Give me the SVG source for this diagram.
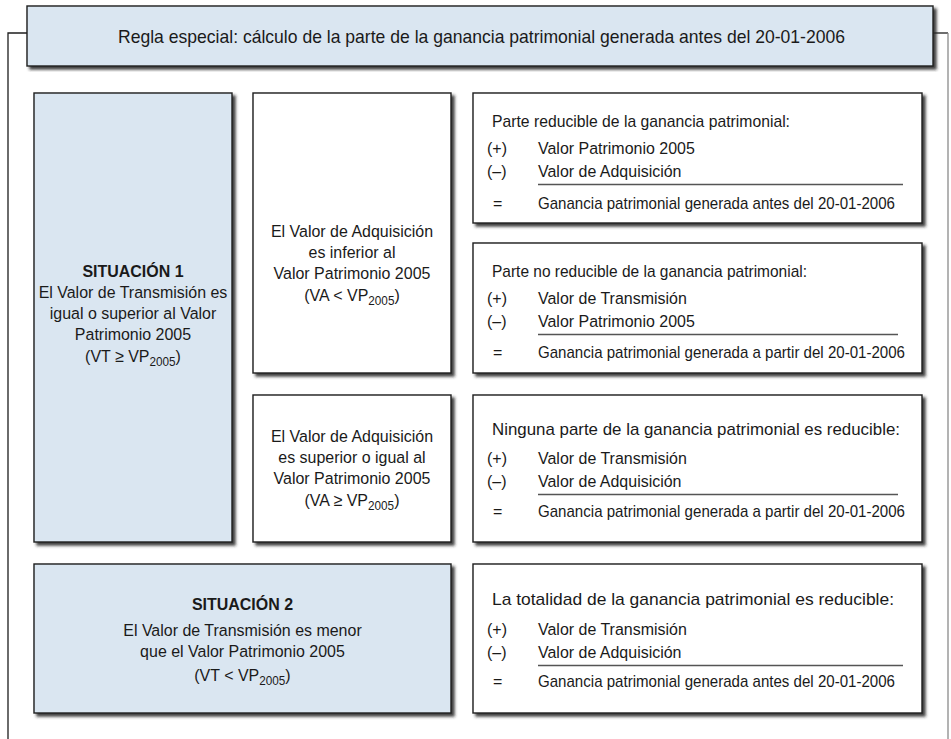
<svg xmlns="http://www.w3.org/2000/svg" width="951" height="739" viewBox="0 0 951 739">
<defs>
<filter id="sh" x="-5%" y="-5%" width="115%" height="115%">
<feDropShadow dx="3" dy="3" stdDeviation="1.5" flood-color="#2a2a2a" flood-opacity="0.9"/>
</filter>
<style>
.blue{fill:#dae6f1;stroke:#1e1e1e;stroke-width:1.4;filter:url(#sh)}
.white{fill:#ffffff;stroke:#1e1e1e;stroke-width:1.4;filter:url(#sh)}
text{font-family:"Liberation Sans",Arial,sans-serif;font-size:17px;fill:#1a1a1a}
.c{text-anchor:middle}
.b{font-weight:bold}
.h{font-size:18.5px}
.sub{font-size:12.5px}
.rule{stroke:#555555;stroke-width:1.3}
</style>
</defs>
<rect width="951" height="739" fill="#ffffff"/>
<g id="connectors">
<polyline points="27,33 8,33 8,739" fill="none" stroke="#1e1e1e" stroke-width="1.3"/>
<line x1="933" y1="33" x2="948" y2="33" stroke="#1e1e1e" stroke-width="1.3"/>
<line x1="948" y1="33" x2="948" y2="739" stroke="#8a8a8a" stroke-width="1.3"/>
</g>
<g id="header">
<rect class="blue" x="27" y="6" width="906" height="60"/>
<text class="h c" x="481.5" y="43" textLength="727" lengthAdjust="spacingAndGlyphs">Regla especial: cálculo de la parte de la ganancia patrimonial generada antes del 20-01-2006</text>
</g>
<g id="situacion1">
<rect class="blue" x="34" y="93" width="198" height="449"/>
<text class="c b" x="133" y="277" transform="matrix(0.94 0 0 1 7.98 0)">SITUACIÓN 1</text>
<text class="c" x="133" y="298" transform="matrix(0.94 0 0 1 7.98 0)">El Valor de Transmisión es</text>
<text class="c" x="133" y="319" transform="matrix(0.94 0 0 1 7.98 0)">igual o superior al Valor</text>
<text class="c" x="133" y="340" transform="matrix(0.94 0 0 1 7.98 0)">Patrimonio 2005</text>
<text class="c" x="133" y="362" transform="matrix(0.94 0 0 1 7.98 0)">(VT ≥ VP<tspan class="sub" dy="4">2005</tspan><tspan dy="-4">)</tspan></text>
</g>
<g id="va-menor">
<rect class="white" x="253" y="93" width="198" height="280"/>
<text class="c" x="352" y="237" transform="matrix(0.94 0 0 1 21.12 0)">El Valor de Adquisición</text>
<text class="c" x="352" y="258" transform="matrix(0.94 0 0 1 21.12 0)">es inferior al</text>
<text class="c" x="352" y="279" transform="matrix(0.94 0 0 1 21.12 0)">Valor Patrimonio 2005</text>
<text class="c" x="352" y="301" transform="matrix(0.94 0 0 1 21.12 0)">(VA &lt; VP<tspan class="sub" dy="4">2005</tspan><tspan dy="-4">)</tspan></text>
</g>
<g id="va-mayor">
<rect class="white" x="253" y="395" width="198" height="147"/>
<text class="c" x="352" y="442" transform="matrix(0.94 0 0 1 21.12 0)">El Valor de Adquisición</text>
<text class="c" x="352" y="463" transform="matrix(0.94 0 0 1 21.12 0)">es superior o igual al</text>
<text class="c" x="352" y="484" transform="matrix(0.94 0 0 1 21.12 0)">Valor Patrimonio 2005</text>
<text class="c" x="352" y="506" transform="matrix(0.94 0 0 1 21.12 0)">(VA ≥ VP<tspan class="sub" dy="4">2005</tspan><tspan dy="-4">)</tspan></text>
</g>
<g id="parte-reducible">
<rect class="white" x="473" y="93" width="449" height="130"/>
<text x="492" y="127" textLength="298" lengthAdjust="spacingAndGlyphs">Parte reducible de la ganancia patrimonial:</text>
<text x="487" y="154" transform="matrix(0.94 0 0 1 29.22 0)">(+)</text>
<text x="538" y="154" transform="matrix(0.94 0 0 1 32.28 0)">Valor Patrimonio 2005</text>
<text x="487" y="177" transform="matrix(0.94 0 0 1 29.22 0)">(–)</text>
<text x="538" y="177" transform="matrix(0.94 0 0 1 32.28 0)">Valor de Adquisición</text>
<line class="rule" x1="538" y1="184.5" x2="903" y2="184.5"/>
<text x="493" y="209" transform="matrix(0.94 0 0 1 29.58 0)">=</text>
<text x="538" y="209" textLength="357" lengthAdjust="spacingAndGlyphs">Ganancia patrimonial generada antes del 20-01-2006</text>
</g>
<g id="parte-no-reducible">
<rect class="white" x="473" y="243" width="449" height="130"/>
<text x="492" y="277" textLength="315" lengthAdjust="spacingAndGlyphs">Parte no reducible de la ganancia patrimonial:</text>
<text x="487" y="304" transform="matrix(0.94 0 0 1 29.22 0)">(+)</text>
<text x="538" y="304" transform="matrix(0.94 0 0 1 32.28 0)">Valor de Transmisión</text>
<text x="487" y="327" transform="matrix(0.94 0 0 1 29.22 0)">(–)</text>
<text x="538" y="327" transform="matrix(0.94 0 0 1 32.28 0)">Valor Patrimonio 2005</text>
<line class="rule" x1="538" y1="334.5" x2="898" y2="334.5"/>
<text x="493" y="358" transform="matrix(0.94 0 0 1 29.58 0)">=</text>
<text x="538" y="358" textLength="367" lengthAdjust="spacingAndGlyphs">Ganancia patrimonial generada a partir del 20-01-2006</text>
</g>
<g id="ninguna-parte">
<rect class="white" x="473" y="395" width="449" height="147"/>
<text x="492" y="435" textLength="408" lengthAdjust="spacingAndGlyphs">Ninguna parte de la ganancia patrimonial es reducible:</text>
<text x="487" y="464" transform="matrix(0.94 0 0 1 29.22 0)">(+)</text>
<text x="538" y="464" transform="matrix(0.94 0 0 1 32.28 0)">Valor de Transmisión</text>
<text x="487" y="487" transform="matrix(0.94 0 0 1 29.22 0)">(–)</text>
<text x="538" y="487" transform="matrix(0.94 0 0 1 32.28 0)">Valor de Adquisición</text>
<line class="rule" x1="538" y1="494.5" x2="898" y2="494.5"/>
<text x="493" y="517" transform="matrix(0.94 0 0 1 29.58 0)">=</text>
<text x="538" y="517" textLength="367" lengthAdjust="spacingAndGlyphs">Ganancia patrimonial generada a partir del 20-01-2006</text>
</g>
<g id="situacion2">
<rect class="blue" x="34" y="564" width="417" height="149"/>
<text class="c b" x="242.5" y="610" transform="matrix(0.94 0 0 1 14.55 0)">SITUACIÓN 2</text>
<text class="c" x="242.5" y="636" transform="matrix(0.94 0 0 1 14.55 0)">El Valor de Transmisión es menor</text>
<text class="c" x="242.5" y="657" transform="matrix(0.94 0 0 1 14.55 0)">que el Valor Patrimonio 2005</text>
<text class="c" x="242.5" y="681" transform="matrix(0.94 0 0 1 14.55 0)">(VT &lt; VP<tspan class="sub" dy="4">2005</tspan><tspan dy="-4">)</tspan></text>
</g>
<g id="totalidad">
<rect class="white" x="473" y="564" width="449" height="149"/>
<text x="492" y="605" textLength="402" lengthAdjust="spacingAndGlyphs">La totalidad de la ganancia patrimonial es reducible:</text>
<text x="487" y="635" transform="matrix(0.94 0 0 1 29.22 0)">(+)</text>
<text x="538" y="635" transform="matrix(0.94 0 0 1 32.28 0)">Valor de Transmisión</text>
<text x="487" y="658" transform="matrix(0.94 0 0 1 29.22 0)">(–)</text>
<text x="538" y="658" transform="matrix(0.94 0 0 1 32.28 0)">Valor de Adquisición</text>
<line class="rule" x1="538" y1="665.5" x2="903" y2="665.5"/>
<text x="493" y="687" transform="matrix(0.94 0 0 1 29.58 0)">=</text>
<text x="538" y="687" textLength="357" lengthAdjust="spacingAndGlyphs">Ganancia patrimonial generada antes del 20-01-2006</text>
</g>
</svg>
